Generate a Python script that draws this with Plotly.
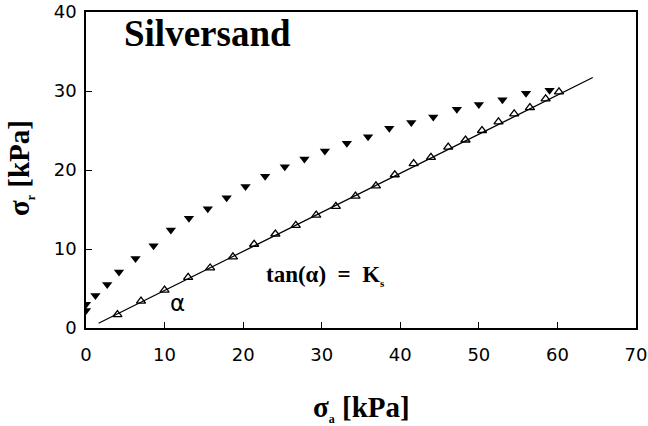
import plotly.graph_objects as go

# Open triangles (measured, along fitted line)
open_x = [4.0, 7.0, 10.0, 13.0, 15.8, 18.7, 21.4, 24.1, 26.7, 29.3, 31.8, 34.3,
          36.9, 39.3, 41.7, 43.9, 46.1, 48.3, 50.4, 52.5, 54.5, 56.5, 58.5, 60.2]
open_y = [1.7, 3.4, 4.8, 6.4, 7.6, 9.0, 10.6, 11.9, 13.0, 14.3, 15.4, 16.7,
          18.0, 19.4, 20.8, 21.6, 22.9, 23.8, 25.0, 26.1, 27.1, 27.9, 29.0, 29.9]

# Filled inverted triangles
filled_x = [0.0, 0.0, 1.2, 2.7, 4.2, 6.3, 8.6, 10.8, 13.1, 15.5, 17.9, 20.3, 22.8,
            25.3, 27.8, 30.4, 33.2, 35.9, 38.6, 41.4, 44.2, 47.2, 50.0, 53.0, 56.0, 59.0]
filled_y = [2.2, 3.0, 4.1, 5.5, 7.1, 8.8, 10.4, 12.4, 13.9, 15.1, 16.5, 17.9, 19.2,
            20.4, 21.4, 22.4, 23.4, 24.2, 25.3, 26.0, 26.7, 27.7, 28.3, 28.9, 29.7, 30.1]

# Fitted straight line
fit_x = [1.6, 64.5]
fit_y = [0.6, 31.7]

x_ticks = [0, 10, 20, 30, 40, 50, 60, 70]
y_ticks = [0, 10, 20, 30, 40]

serif = "Liberation Serif"
sans = "DejaVu Sans"

fig = go.Figure()
fig.add_trace(go.Scatter(x=fit_x, y=fit_y, mode="lines",
                         line=dict(color="black", width=1.2), showlegend=False))
fig.add_trace(go.Scatter(x=filled_x, y=filled_y, mode="markers",
                         marker=dict(symbol="triangle-down", size=9, color="black"),
                         showlegend=False))
fig.add_trace(go.Scatter(x=open_x, y=open_y, mode="markers",
                         marker=dict(symbol="triangle-up-open", size=8, color="black",
                                     line=dict(width=1.3)),
                         showlegend=False))

fig.add_annotation(x=4.6, y=37.3, xanchor="left", yanchor="middle", showarrow=False,
                   text="<b>Silversand</b>", font=dict(family=serif, size=37, color="black"))
fig.add_annotation(x=11.65, y=3.2, xanchor="center", yanchor="middle", showarrow=False,
                   text="α", font=dict(family=sans, size=23, color="black"))
fig.add_annotation(x=22.6, y=6.6, xanchor="left", yanchor="middle", showarrow=False,
                   text="<b>tan(α)\u00a0\u00a0=\u00a0\u00a0K<sub><span style='font-size:11px'>s</span></sub></b>",
                   font=dict(family=serif, size=23, color="black"))

# Axis titles
fig.add_annotation(xref="paper", yref="paper", x=0.5, y=-0.256, xanchor="center", yanchor="middle",
                   showarrow=False,
                   text="<b>σ<sub><span style='font-size:12px'>a</span></sub> [kPa]</b>",
                   font=dict(family=serif, size=29, color="black"))
fig.add_annotation(xref="paper", yref="paper", x=-0.12, y=0.506, xanchor="center", yanchor="middle",
                   showarrow=False, textangle=-90,
                   text="<b>σ<sub><span style='font-size:12px'>r</span></sub> [kPa]</b>",
                   font=dict(family=serif, size=29, color="black"))

axis_common = dict(showgrid=False, zeroline=False, showline=True, linecolor="black",
                   linewidth=1.5, mirror=True, ticks="inside", ticklen=6, tickwidth=1,
                   tickcolor="black", automargin=False,
                   tickfont=dict(family=sans, size=18, color="black"))

fig.update_xaxes(range=[0, 70], tickvals=x_ticks, ticktext=[str(v) for v in x_ticks],
                 ticklabelstandoff=10, **axis_common)
fig.update_yaxes(range=[0, 40], tickvals=y_ticks, ticktext=[str(v) for v in y_ticks],
                 ticklabelstandoff=4, **axis_common)

fig.update_layout(width=648, height=426, margin=dict(l=86, r=12, t=12, b=98),
                  plot_bgcolor="white", paper_bgcolor="white")

fig.write_html("out.html", config={"displayModeBar": False},
               post_script="document.body.style.margin='0';document.body.style.overflow='hidden';")
